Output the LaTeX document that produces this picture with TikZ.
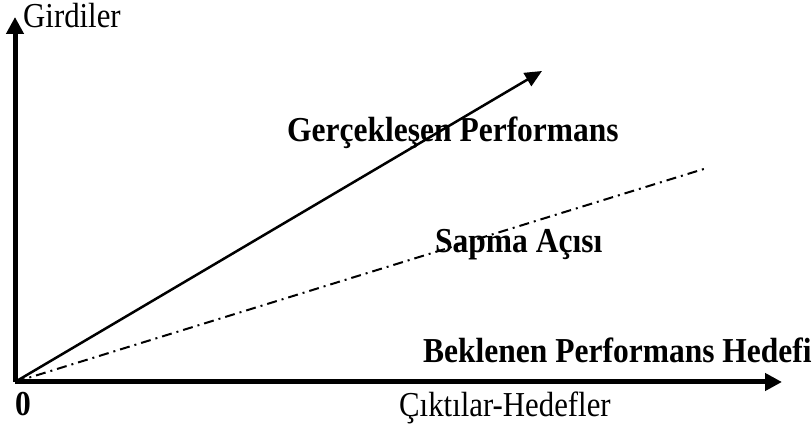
\documentclass[tikz,border=0pt]{standalone}
\usepackage{fontspec}
\setmainfont{Liberation Serif}[FakeStretch=0.88,BoldFeatures={FakeStretch=0.9}]
\usetikzlibrary{arrows.meta}

\begin{document}
\begin{tikzpicture}[x=1pt,y=1pt,>={Triangle[length=17pt,width=17pt]},
  font=\fontsize{35}{40}\selectfont,
  lbl/.style={inner sep=0pt,anchor=base west},
  blbl/.style={lbl,font=\fontsize{35}{40}\selectfont\bfseries}]
  \useasboundingbox (0,0) rectangle (812,427);
  % axes
  \coordinate (O) at (15,45);
  \coordinate (ytip) at (15,410);
  \coordinate (xtip) at (782,45);
  \draw[->,line width=5pt] (O) -- (ytip);
  \draw[->,line width=5pt] (O) -- (xtip);
  \node[lbl] (girdi) at (23,399) {Girdiler};
  \node[lbl] (cikti) at (399,10) {Çıktılar-Hedefler};
  \node[blbl] (zero) at (15,11) {0};
  % performance lines
  \coordinate (gtip) at (542,356);
  \coordinate (send) at (707,259);
  \node[blbl] (gerc) at (287,285) {Gerçekleşen Performans};
  \node[blbl] (sapma) at (435,174) {Sapma Açısı};
  \node[blbl] (hedef) at (423,64) {Beklenen Performans Hedefi};
  \draw[-{Triangle[length=17pt,width=15pt]},line width=2.5pt] (O) -- (gtip);
  \draw[line width=2pt,dash pattern=on 10pt off 5pt on 2pt off 5pt] (O) -- (send);
\end{tikzpicture}
\end{document}
